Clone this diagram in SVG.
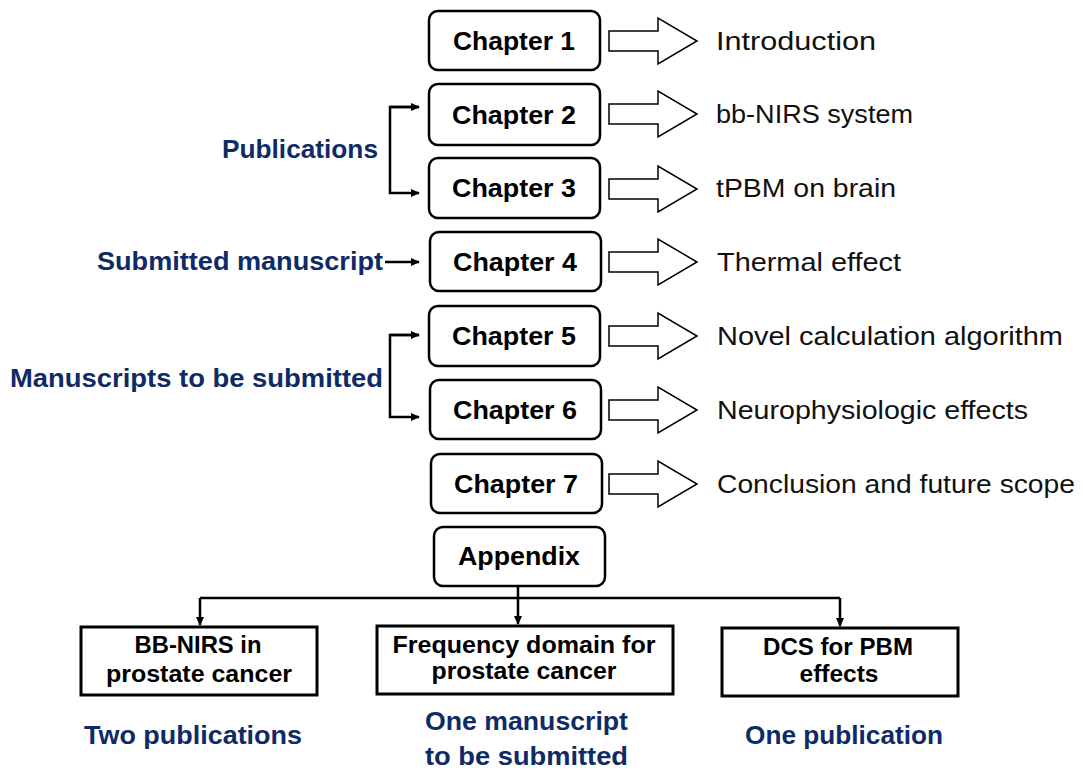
<svg xmlns="http://www.w3.org/2000/svg" xmlns:xlink="http://www.w3.org/1999/xlink" width="1083" height="771" viewBox="0 0 1083 771">
<style>
  .chap { fill:#fff; stroke:#000; stroke-width:2.5; }
  .box { fill:#fff; stroke:#000; stroke-width:3; }
  .barrow { fill:#fff; stroke:#000; stroke-width:1.5; stroke-linejoin:miter; }
  .conn { fill:none; stroke:#000; stroke-width:2.5; }
  .lbl { font-family:"Liberation Sans", Arial, sans-serif; font-weight:bold; font-size:25px; fill:#000; text-anchor:middle; }
  .desc { font-family:"Liberation Sans", Arial, sans-serif; font-size:26px; fill:#111; }
  .blue { font-family:"Liberation Sans", Arial, sans-serif; font-weight:bold; font-size:25px; fill:#0f2b66; }
  .btxt { font-family:"Liberation Sans", Arial, sans-serif; font-weight:bold; font-size:23px; fill:#000; text-anchor:middle; }
</style>
<defs>
  <marker id="ah" markerWidth="10" markerHeight="10" refX="8" refY="5" orient="auto" markerUnits="userSpaceOnUse">
    <path d="M0,1 L9,5 L0,9 Z" fill="#000"/>
  </marker>
  <path id="bigarrow" class="barrow" d="M609,-10 H658 V-23 L697,0 L658,23 V10 H609 Z"/>
</defs>
<rect width="1083" height="771" fill="#fff"/>

<g id="ch1"><rect class="chap" x="429" y="11" width="171" height="59" rx="9"/><text class="lbl" x="514" y="50" textLength="122" lengthAdjust="spacingAndGlyphs">Chapter 1</text></g>
<g id="ch2"><rect class="chap" x="429" y="84" width="171" height="61" rx="9"/><text class="lbl" x="514" y="124" textLength="124" lengthAdjust="spacingAndGlyphs">Chapter 2</text></g>
<g id="ch3"><rect class="chap" x="429" y="158" width="171" height="60" rx="9"/><text class="lbl" x="514" y="197" textLength="124" lengthAdjust="spacingAndGlyphs">Chapter 3</text></g>
<g id="ch4"><rect class="chap" x="430" y="232" width="171" height="59" rx="9"/><text class="lbl" x="515" y="271" textLength="124" lengthAdjust="spacingAndGlyphs">Chapter 4</text></g>
<g id="ch5"><rect class="chap" x="429" y="306" width="171" height="60" rx="9"/><text class="lbl" x="514" y="345" textLength="124" lengthAdjust="spacingAndGlyphs">Chapter 5</text></g>
<g id="ch6"><rect class="chap" x="430" y="380" width="171" height="59" rx="9"/><text class="lbl" x="515" y="419" textLength="124" lengthAdjust="spacingAndGlyphs">Chapter 6</text></g>
<g id="ch7"><rect class="chap" x="431" y="454" width="171" height="59" rx="9"/><text class="lbl" x="516" y="493" textLength="124" lengthAdjust="spacingAndGlyphs">Chapter 7</text></g>

<g id="arrows">
  <use xlink:href="#bigarrow" y="41"/>
  <use xlink:href="#bigarrow" y="114"/>
  <use xlink:href="#bigarrow" y="189"/>
  <use xlink:href="#bigarrow" y="262"/>
  <use xlink:href="#bigarrow" y="336"/>
  <use xlink:href="#bigarrow" y="410"/>
  <use xlink:href="#bigarrow" y="484"/>
</g>

<g id="descriptions">
  <text class="desc" x="716" y="50" textLength="160" lengthAdjust="spacingAndGlyphs">Introduction</text>
  <text class="desc" x="716" y="123" textLength="197" lengthAdjust="spacingAndGlyphs">bb-NIRS system</text>
  <text class="desc" x="716" y="197" textLength="180" lengthAdjust="spacingAndGlyphs">tPBM on brain</text>
  <text class="desc" x="717" y="271" textLength="184" lengthAdjust="spacingAndGlyphs">Thermal effect</text>
  <text class="desc" x="717" y="345" textLength="346" lengthAdjust="spacingAndGlyphs">Novel calculation algorithm</text>
  <text class="desc" x="717" y="419" textLength="311" lengthAdjust="spacingAndGlyphs">Neurophysiologic effects</text>
  <text class="desc" x="717" y="493" textLength="358" lengthAdjust="spacingAndGlyphs">Conclusion and future scope</text>
</g>

<g id="left-labels">
  <text class="blue" x="222" y="158" textLength="156" lengthAdjust="spacingAndGlyphs">Publications</text>
  <text class="blue" x="97" y="270" textLength="286" lengthAdjust="spacingAndGlyphs">Submitted manuscript</text>
  <text class="blue" x="10" y="387" textLength="373" lengthAdjust="spacingAndGlyphs">Manuscripts to be submitted</text>
</g>

<g id="appendix"><rect class="chap" x="434" y="527" width="171" height="59" rx="9"/><text class="lbl" x="519" y="565" textLength="122" lengthAdjust="spacingAndGlyphs">Appendix</text></g>

<g id="app1"><rect class="box" x="81" y="627" width="236" height="68"/>
  <text class="btxt" x="198" y="653" textLength="127" lengthAdjust="spacingAndGlyphs">BB-NIRS in</text>
  <text class="btxt" x="199" y="682" textLength="186" lengthAdjust="spacingAndGlyphs">prostate cancer</text></g>
<g id="app2"><rect class="box" x="377" y="626" width="296" height="68"/>
  <text class="btxt" x="524" y="653" textLength="263" lengthAdjust="spacingAndGlyphs">Frequency domain for</text>
  <text class="btxt" x="524" y="679" textLength="185" lengthAdjust="spacingAndGlyphs">prostate cancer</text></g>
<g id="app3"><rect class="box" x="722" y="628" width="236" height="68"/>
  <text class="btxt" x="838" y="655" textLength="150" lengthAdjust="spacingAndGlyphs">DCS for PBM</text>
  <text class="btxt" x="839" y="682" textLength="79" lengthAdjust="spacingAndGlyphs">effects</text></g>

<g id="bottom-labels">
  <text class="blue" x="84" y="744" textLength="218" lengthAdjust="spacingAndGlyphs">Two publications</text>
  <text class="blue" x="425" y="730" textLength="203" lengthAdjust="spacingAndGlyphs">One manuscript</text>
  <text class="blue" x="425" y="765" textLength="203" lengthAdjust="spacingAndGlyphs">to be submitted</text>
  <text class="blue" x="745" y="744" textLength="198" lengthAdjust="spacingAndGlyphs">One publication</text>
</g>

<g id="connectors">
  <path class="conn" d="M419,107 H390 V193 H419" marker-end="url(#ah)"/>
  <path class="conn" d="M390,107 H419" marker-end="url(#ah)"/>
  <path class="conn" d="M385,262 H419" marker-end="url(#ah)"/>
  <path class="conn" d="M419,335 H390 V417 H419" marker-end="url(#ah)"/>
  <path class="conn" d="M390,335 H419" marker-end="url(#ah)"/>
  <path class="conn" d="M518,586 V624" marker-end="url(#ah)"/>
  <path class="conn" d="M200,598 H840"/>
  <path class="conn" d="M200,598 V625" marker-end="url(#ah)"/>
  <path class="conn" d="M840,598 V626" marker-end="url(#ah)"/>
</g>
</svg>
